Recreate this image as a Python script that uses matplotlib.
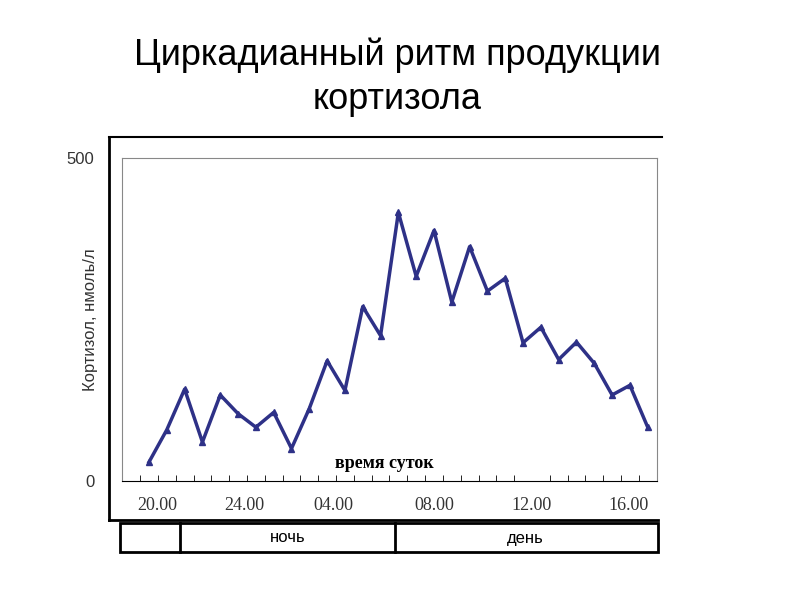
import numpy as np
import matplotlib.pyplot as plt
from matplotlib.lines import Line2D
from matplotlib.patches import Rectangle

# cortisol, nmol/l, one sample every 45 min starting ~19:40
cortisol = [29, 79, 142, 60, 133, 104, 83, 106, 50, 112, 186, 140, 270, 225, 416,
            317, 388, 277, 363, 294, 314, 214, 238, 188, 215, 182, 133, 148, 83]
time_labels = ["20.00", "24.00", "04.00", "08.00", "12.00", "16.00"]
label_pos = [0.45, 5.35, 10.35, 16.0, 21.5, 26.9]

plt.rcParams['font.family'] = ['Liberation Sans', 'DejaVu Sans']
fig = plt.figure(figsize=(7.94, 5.95), dpi=100)

fig.text(0.5, 0.907, "Циркадианный ритм продукции", ha='center', va='center', fontsize=26)
fig.text(0.5, 0.832, "кортизола", ha='center', va='center', fontsize=26)

ax = fig.add_axes([0.154, 0.192, 0.673, 0.542])
x = np.arange(len(cortisol))
ax.plot(x, cortisol, color='#2e3187', lw=2.5, marker='^', ms=4)
ax.set_xlim(-1.5, 28.5)
ax.set_ylim(0, 500)
for s in ax.spines.values():
    s.set_color('#888888')
    s.set_linewidth(0.8)
ax.spines['bottom'].set_color('black')
ax.set_yticks([0, 500])
ax.set_yticklabels(["0", "500"], fontsize=12, color='#333333')
ax.tick_params(axis='y', length=0, pad=20)
ax.set_xticks(np.arange(-1, 29) + 0.5, minor=True)
ax.tick_params(axis='x', which='minor', length=4, direction='in')
ax.set_xticks(label_pos)
ax.set_xticklabels(time_labels, family='Liberation Serif', fontsize=13, color='#333333')
ax.tick_params(axis='x', which='major', length=0, pad=12)
ax.set_ylabel("Кортизол, нмоль/л", fontsize=12, color='#333333')
ax.yaxis.set_label_coords(-0.045, 0.5)
ax.text(0.49, 0.04, "время суток", transform=ax.transAxes, ha='center',
        family='Liberation Serif', fontweight='bold', fontsize=13)

W, H = 794, 595
def fx(px): return px / W
def fy(py): return 1 - py / H

fig.add_artist(Line2D([fx(109), fx(109)], [fy(137), fy(520)], color='black', lw=2))
fig.add_artist(Line2D([fx(109), fx(662)], [fy(137), fy(137)], color='black', lw=1.5))
fig.add_artist(Line2D([fx(109), fx(658)], [fy(520), fy(520)], color='black', lw=2))
fig.add_artist(Rectangle((fx(120), fy(552)), fx(658) - fx(120), fy(523) - fy(552),
                         fill=False, ec='black', lw=2, transform=fig.transFigure))
for px in [180, 395]:
    fig.add_artist(Line2D([fx(px), fx(px)], [fy(523), fy(552)], color='black', lw=2))
fig.text(fx(288), fy(538), "ночь", ha='center', va='center', fontsize=12)
fig.text(fx(525), fy(538), "день", ha='center', va='center', fontsize=12)

fig.savefig("out.png", dpi=100)
